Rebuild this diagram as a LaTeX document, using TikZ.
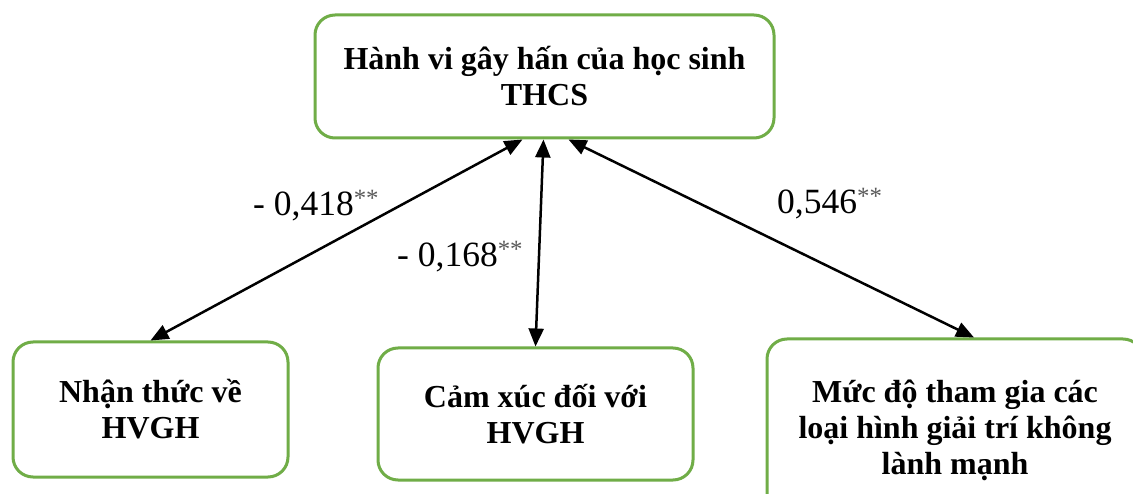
\documentclass[tikz,border=0pt]{standalone}
\usepackage{fontspec}
\setmainfont{Liberation Serif}
\usetikzlibrary{arrows.meta}
\definecolor{boxgreen}{HTML}{70AD47}
\definecolor{stargray}{HTML}{595959}
\tikzset{
  box/.style={draw=boxgreen, line width=3pt, rounded corners=20pt, fill=white,
    align=center, font=\fontsize{32}{36}\selectfont\bfseries, inner sep=0pt},
  link/.style={line width=2.5pt, {Triangle[length=18pt,width=15pt]}-{Triangle[length=18pt,width=15pt]}},
  coef/.style={anchor=base west, inner sep=0pt, font=\fontsize{35.5}{40}\selectfont}
}
\newcommand{\stars}{\textsuperscript{\color{stargray}**}}
\begin{document}
\begin{tikzpicture}[x=1pt,y=-1pt]
\clip (0,0) rectangle (1133,494);
\fill[white] (0,0) rectangle (1133,494);
\node[box, minimum width=459pt, minimum height=123pt] (top) at (544.5,76.5)
  {Hành vi gây hấn của học sinh\\THCS};
\node[box, minimum width=275pt, minimum height=135pt] (nl) at (150.5,409.5)
  {Nhận thức về\\HVGH};
\node[box, minimum width=315pt, minimum height=132pt] (nm) at (535.5,414)
  {Cảm xúc đối với\\HVGH};
\node[box, minimum width=376pt, minimum height=182pt] (nr) at (955,430)
  {Mức độ tham gia các\\loại hình giải trí không\\lành mạnh};
\draw[link] (nl.north) -- ([xshift=-22pt]top.south);
\draw[link] (nm.north) -- ([xshift=-1pt]top.south);
\draw[link] ([xshift=19pt]nr.north) -- ([xshift=24pt]top.south);
\node[coef] (c1) at (253,216) {- 0,418\stars};
\node[coef] (c2) at (397,267) {- 0,168\stars};
\node[coef] (c3) at (777,214) {0,546\stars};
\end{tikzpicture}
\end{document}
